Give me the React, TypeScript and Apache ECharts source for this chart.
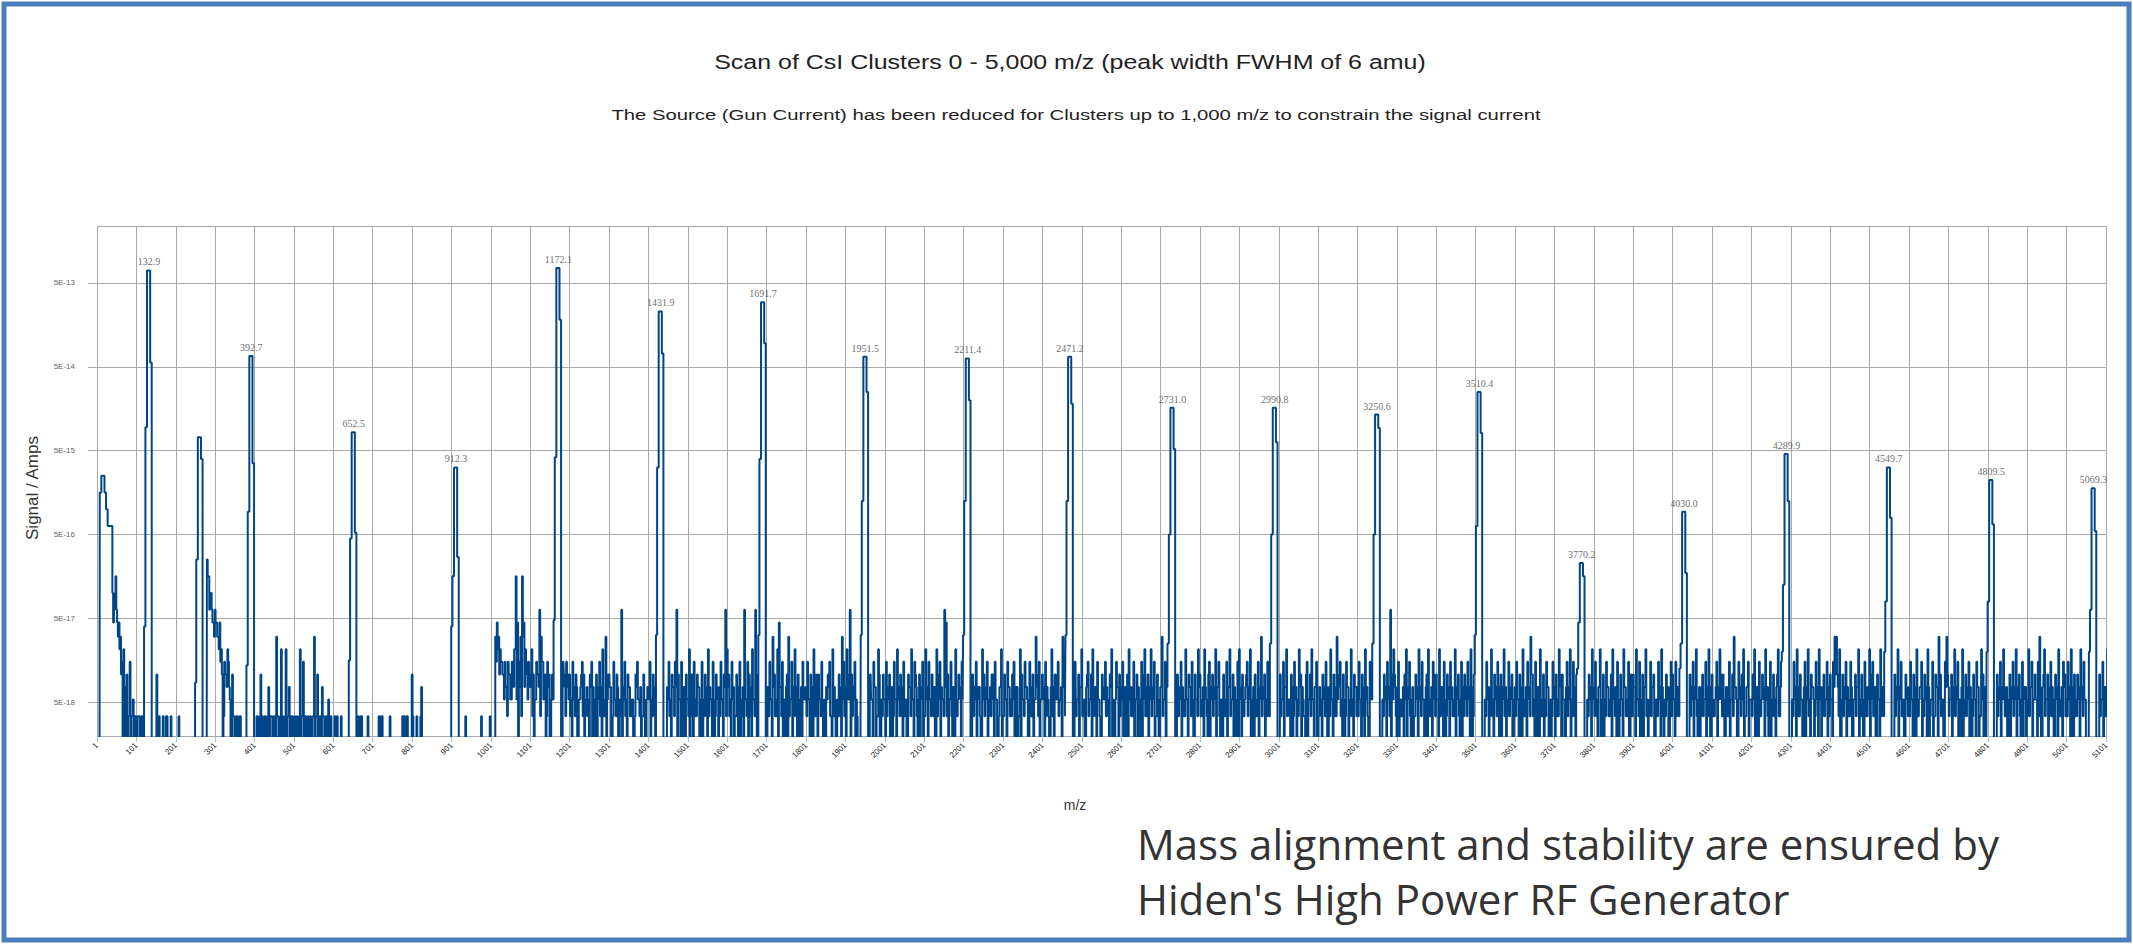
import React, { useEffect, useRef } from 'react';
import * as echarts from 'echarts';

// ---------- texts ----------
const TITLE = 'Scan of CsI Clusters 0 - 5,000 m/z (peak width FWHM of 6 amu)';
const SUBTITLE = 'The Source (Gun Current) has been reduced for Clusters up to 1,000 m/z to constrain the signal current';
const Y_NAME = 'Signal / Amps';
const X_NAME = 'm/z';
const NOTE_LINES = ['Mass alignment and stability are ensured by', "Hiden's High Power RF Generator"];

// ---------- axes ----------
const X_MIN = 1;
const X_MAX = 5101;
const X_STEP = 100;
// y grid lines are at 5E-18 ... 5E-13 A; values below are exponents of (signal / 5 A)
const Y_MIN_EXP = -18.405;
const Y_MAX_EXP = -12.32;

// ---------- scan trace: samples every 2 m/z, stored as two interleaved level strings ----------
// level codes -> exponent of (signal / 5 A); '0' = below the axis floor
const LEVEL_CODES = '0123456789abcdefgh';
const LEVEL_EXP: (number | null)[] = [null, -18.17, -17.97, -17.82, -17.67, -17.52, -17.37, -17.22, -17.05, -16.9, -16.7, -16.5, -16.3, -16.1, -15.9, -15.7, -15.5, -15.3];
// samples at m/z 1, 5, 9, ...
const SCAN_A_START = 1;
// samples at m/z 3, 7, 11, ...
const SCAN_B_START = 3;
const SCAN_STEP = 4;
const SCAN_A = [
  '00ghhgfeee' + 'a9b8875604' + '1512101101' + '0000000040' + '0010100100', // 1-197
  '0010000000' + '0000000000' + 'cba9898786' + '0546304101' + '0100000000', // 201-397
  '0010410103' + '1101710610' + '6130100106' + '1510100171' + '4013101200', // 401-597
  '0100010000' + '0000001010' + '0010000001' + '0100001000' + '0000110100', // 601-797
  '4001003000' + '0000000000' + '0000000000' + '0000100000' + '0000100000', // 801-997
  '0007876545' + '354246b857' + 'b864536425' + '4975305404' + '0000005354', // 1001-1197
  '4253402354' + '1324530425' + '3617243052' + '4029352431' + '2045231402', // 1201-1397
  '3524100000' + '0035243594' + '2503426135' + '2430524163' + '2504235249', // 1401-1597
  '6425314052' + '3925416290' + '0000003527' + '4168352047' + '2536140352', // 1601-1797
  '3524061342' + '5023451630' + '2417536294' + '3520000000' + '0425316024', // 1801-1997
  '2534105263' + '4152043625' + '3042516352' + '4106253298' + '4250361425', // 2001-2197
  '0000004352' + '3064251342' + '5203614253' + '2450316425' + '3051427352', // 2201-2397
  '4253106342' + '5237400000' + '0524361035' + '2463152042' + '5314620534', // 2401-2597
  '3520463152' + '4305261436' + '2514037253' + '0000004253' + '1624350426', // 2601-2797
  '4136205342' + '6350241536' + '2430562413' + '5260341527' + '3425100000', // 2801-2997
  '0425362140' + '5326431052' + '4623503142' + '5036241735' + '2405316243', // 3001-3197
  '3524163052' + '0000002435' + '2946305213' + '4625031426' + '3520461352', // 3201-3397
  '4263150425' + '3162405342' + '5360400000' + '0253162435' + '0426315240', // 3401-3597
  '3524061352' + '7425036142' + '5300524163' + '4205362514' + '0000002436', // 3601-3797
  '2513604253' + '1462350426' + '3150243625' + '0436215340' + '2536124305', // 3801-3997
  '4253100000' + '0435260314' + '2536041253' + '6240315247' + '3052461352', // 4001-4197
  '2460351426' + '3051423615' + '0000002536' + '1420536243' + '0526314253', // 4201-4397
  '4257736042' + '5315024362' + '4051362530' + '4263100000' + '0436251042', // 4401-4597
  '3524061352' + '4360251437' + '4205732416' + '3520614253' + '0425316420', // 4601-4797
  '0000004253' + '6130425362' + '4052316352' + '4257036241' + '5304261354', // 4801-4997
  '2536041426' + '3520000000' + '0425316243' + '5000000000' + '0000000000', // 5001-5197
];
const SCAN_B = [
  '00ghhgfeee' + '8a97640310' + '1010101010' + '0000000001' + '0000100000', // 3-199
  '0000000000' + '0000000000' + 'b9a8787654' + '1435201010' + '1000000000', // 203-399
  '0101001010' + '1010101001' + '0101010010' + '1010010101' + '0101010010', // 403-599
  '0010000000' + '0000000100' + '0000000000' + '1000000000' + '0000001000', // 603-799
  '1000010000' + '0000000000' + '0000000000' + '0000000000' + '0000000001', // 803-999
  '0005645423' + '1425362031' + '7352431024' + '3152413022' + '0000004132', // 1003-1199
  '1021302410' + '2103012031' + '0210430121' + '3010210312' + '0132101203', // 1203-1399
  '2013000000' + '1021031302' + '0130210401' + '1302013012' + '0213012031', // 1403-1599
  '3102013201' + '0210302140' + '0000001203' + '1203102301' + '2013021032', // 1603-1799
  '1203014021' + '2102310120' + '1302104201' + '2010000000' + '1203014012', // 1803-1999
  '0120312021' + '3012031204' + '1203012021' + '2301402131' + '0213012302', // 2003-2199
  '0000001203' + '1021302140' + '2013012031' + '1203010213' + '2031024102', // 2203-2399
  '3012031024' + '1203100000' + '0120312041' + '2013021032' + '1203012301', // 2403-2599
  '2031021302' + '0120413021' + '3012031201' + '0000001302' + '1203120213', // 2603-2799
  '1203140213' + '0312021031' + '2012030124' + '1302012031' + '2012000000', // 2803-2999
  '0120312031' + '2013021402' + '1203012031' + '3012031241' + '0213021031', // 3003-3199
  '1203021032' + '0000001203' + '1024130210' + '2031201302' + '1203012041', // 3203-3399
  '2013021302' + '1203120131' + '2031200000' + '0120310213' + '2031021302', // 3403-3599
  '1203012031' + '4102301201' + '3021302140' + '2031201302' + '0000001203', // 3603-3799
  '1203020131' + '2031021203' + '1204130210' + '2031021302' + '1203012031', // 3803-3999
  '2013000000' + '0120312031' + '2013021302' + '4120310213' + '2031201302', // 4003-4199
  '1203012302' + '1302104130' + '0000001203' + '1203021032' + '1302031201', // 4203-4399
  '2034410213' + '0213021301' + '2031204130' + '2013000000' + '0120312031', // 4403-4599
  '1203012301' + '2031201302' + '1203412031' + '2013021302' + '1203012031', // 4603-4799
  '0000001302' + '3102031203' + '1203021302' + '2013041203' + '1203021031', // 4803-4999
  '1203021302' + '1200000000' + '0120312031' + '2000000000' + '0000000000', // 5003-5199
];

// ---------- cluster peaks ----------
const PEAK_MZ = [132.9, 262.0, 392.7, 652.5, 912.3, 1172.1, 1431.9, 1691.7, 1951.5, 2211.4, 2471.2, 2731.0, 2990.8, 3250.6, 3510.4, 3770.2, 4030.0, 4289.9, 4549.7, 4809.5, 5069.3];
const PEAK_LABEL = ['132.9', '', '392.7', '652.5', '912.3', '1172.1', '1431.9', '1691.7', '1951.5', '2211.4', '2471.2', '2731.0', '2990.8', '3250.6', '3510.4', '3770.2', '4030.0', '4289.9', '4549.7', '4809.5', '5069.3'];
const PEAK_TOP = [-12.85, -14.84, -13.87, -14.78, -15.2, -12.82, -13.34, -13.23, -13.88, -13.9, -13.88, -14.49, -14.49, -14.57, -14.3, -16.34, -15.73, -15.04, -15.2, -15.35, -15.45];
const PEAK_SHOULDER = [-13.95, -15.1, -15.15, -15.98, -16.27, -13.44, -13.84, -13.72, -14.3, -14.4, -14.44, -14.98, -14.9, -14.73, -14.79, -16.5, -16.46, -15.6, -15.8, -15.88, -15.96];
const PEAK_MID = [-14.72, -16.3, -15.73, -16.05, -16.5, -15.08, -15.2, -15.1, -15.6, -15.6, -15.6, -16.0, -16.0, -16.0, -15.9, -17.05, -17.3, -16.6, -16.8, -16.8, -16.9];
const PEAK_FOOT = [-17.1, -17.77, -17.56, -17.5, -17.1, -17.02, -17.2, -17.2, -17.2, -17.2, -17.2, -17.3, -17.3, -17.3, -17.2, -17.6, -17.6, -17.4, -17.4, -17.4, -17.4];

const FLOOR = 1e-21;
const toVal = (e: number | null) => (e === null ? FLOOR : Math.pow(10, e));

function pushScan(pts: [number, number][], rows: string[], start: number) {
  const codes = rows.join('');
  for (let i = 0; i < codes.length; i++) {
    const mz = start + i * SCAN_STEP;
    if (PEAK_MZ.some((c) => Math.abs(mz - c) <= 12)) continue;
    const idx = LEVEL_CODES.indexOf(codes[i]);
    pts.push([mz, toVal(LEVEL_EXP[Math.max(0, idx)])]);
  }
}

function buildTrace(): [number, number][] {
  const pts: [number, number][] = [];
  pushScan(pts, SCAN_A, SCAN_A_START);
  pushScan(pts, SCAN_B, SCAN_B_START);
  PEAK_MZ.forEach((c, k) => {
    pts.push([c - 11, toVal(PEAK_FOOT[k])]);
    pts.push([c - 7, toVal(PEAK_MID[k])]);
    pts.push([c - 3, toVal(PEAK_TOP[k])]);
    pts.push([c + 1, toVal(PEAK_TOP[k])]);
    pts.push([c + 5, toVal(PEAK_SHOULDER[k])]);
    pts.push([c + 9, FLOOR]);
  });
  pts.sort((a, b) => a[0] - b[0]);
  return pts;
}

function fitScale(text: string, font: string, width: number): number {
  const cv = document.createElement('canvas');
  const ctx = cv.getContext('2d');
  if (!ctx) return 1;
  ctx.font = font;
  const w = ctx.measureText(text).width;
  return w > 0 ? width / w : 1;
}

function buildOption(): any {
  const trace = buildTrace();
  const labels = PEAK_MZ.map((c, k) => [c, toVal(PEAK_TOP[k]), PEAK_LABEL[k]]).filter((d) => d[2] !== '');
  const titleFont = '21px "Liberation Sans"';
  const subFont = '14px "Liberation Sans"';
  const grid = '#a9a9a9';
  return {
    animation: false,
    backgroundColor: '#ffffff',
    grid: { left: 97, right: 27, top: 226, bottom: 208, containLabel: false },
    xAxis: {
      type: 'value',
      min: X_MIN,
      max: X_MAX,
      interval: X_STEP,
      axisLine: { show: true, onZero: false, lineStyle: { color: grid, width: 1 } },
      axisTick: { show: true, length: 6, lineStyle: { color: '#a8bfd8', width: 1 } },
      axisLabel: {
        rotate: 45,
        fontSize: 8,
        color: '#222',
        fontFamily: 'Liberation Sans',
        margin: 8,
        showMinLabel: true,
        showMaxLabel: true,
        formatter: (v: number) => String(v),
      },
      splitLine: { show: true, lineStyle: { color: grid, width: 1 } },
    },
    yAxis: {
      type: 'log',
      logBase: 10,
      min: Math.pow(10, Y_MIN_EXP),
      max: Math.pow(10, Y_MAX_EXP),
      axisLine: { show: true, lineStyle: { color: grid, width: 1 } },
      axisTick: { show: true, length: 9, lineStyle: { color: grid, width: 1 } },
      axisLabel: {
        fontSize: 8,
        color: '#666',
        fontFamily: 'Liberation Sans',
        margin: 22,
        showMinLabel: false,
        showMaxLabel: false,
        formatter: (v: number) => {
          const e = Math.log10(v);
          const r = Math.round(e);
          if (Math.abs(e - r) > 0.01) return '';
          return '5E' + r;
        },
      },
      splitLine: { show: true, showMinLine: false, showMaxLine: true, lineStyle: { color: grid, width: 1 } },
    },
    series: [
      {
        type: 'line',
        data: trace,
        step: 'middle',
        symbol: 'none',
        clip: true,
        silent: true,
        lineStyle: { color: '#004586', width: 2 },
      },
      {
        type: 'scatter',
        data: labels,
        symbolSize: 1,
        silent: true,
        itemStyle: { color: 'rgba(0,0,0,0)' },
        label: {
          show: true,
          position: 'top',
          distance: 3,
          fontSize: 10,
          fontFamily: 'Liberation Serif',
          color: '#444',
          formatter: (p: any) => p.data[2],
        },
      },
    ],
    graphic: [
      {
        type: 'rect',
        shape: { x: 4, y: 4, width: 2125, height: 936 },
        style: { fill: 'none', stroke: '#4a7ebb', lineWidth: 5 },
        silent: true,
      },
      {
        type: 'text',
        x: 1070,
        y: 62,
        scaleX: fitScale(TITLE, titleFont, 712),
        style: { text: TITLE, font: titleFont, fill: '#222', align: 'center', verticalAlign: 'middle' },
      },
      {
        type: 'text',
        x: 1076,
        y: 115,
        scaleX: fitScale(SUBTITLE, subFont, 930),
        style: { text: SUBTITLE, font: subFont, fill: '#222', align: 'center', verticalAlign: 'middle' },
      },
      {
        type: 'text',
        x: 32,
        y: 488,
        rotation: Math.PI / 2,
        style: { text: Y_NAME, font: '17px "Liberation Sans"', fill: '#333', align: 'center', verticalAlign: 'middle' },
      },
      {
        type: 'text',
        x: 1075,
        y: 805,
        style: { text: X_NAME, font: '14px "Liberation Sans"', fill: '#333', align: 'center', verticalAlign: 'middle' },
      },
      {
        type: 'text',
        x: 1137,
        y: 843,
        style: { text: NOTE_LINES[0], font: '42px "Open Sans"', fill: '#333', align: 'left', verticalAlign: 'middle' },
      },
      {
        type: 'text',
        x: 1137,
        y: 898,
        style: { text: NOTE_LINES[1], font: '42px "Open Sans"', fill: '#333', align: 'left', verticalAlign: 'middle' },
      },
    ],
  };
}

export default function App() {
  const ref = useRef<HTMLDivElement>(null);
  useEffect(() => {
    if (!ref.current) return;
    const chart = echarts.init(ref.current, null, { renderer: 'svg' });
    chart.setOption(buildOption());
    return () => chart.dispose();
  }, []);
  return (
    <div
      ref={ref}
      style={{ position: 'absolute', left: 0, top: 0, width: 2133, height: 944, background: '#ffffff' }}
    />
  );
}
